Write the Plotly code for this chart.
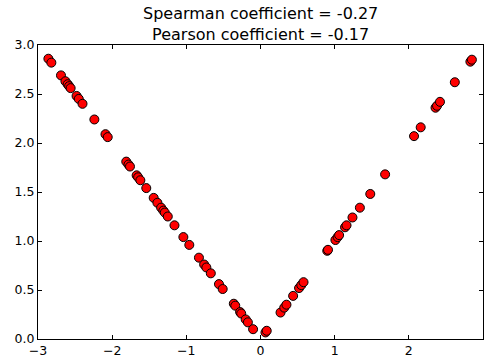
import plotly.graph_objects as go

x_left = [-2.86, -2.82, -2.69, -2.63, -2.60, -2.58, -2.56, -2.48, -2.45, -2.40,
          -2.24, -2.09, -2.06, -1.81, -1.78, -1.76, -1.67, -1.65, -1.62, -1.54,
          -1.44, -1.39, -1.34, -1.31, -1.29, -1.25, -1.16, -1.04, -0.96, -0.83,
          -0.76, -0.73, -0.67, -0.56, -0.51, -0.36, -0.34, -0.275, -0.26, -0.20,
          -0.17, -0.10]
y_left = [2.86, 2.82, 2.69, 2.63, 2.60, 2.58, 2.56, 2.48, 2.45, 2.40,
          2.24, 2.09, 2.06, 1.81, 1.78, 1.76, 1.67, 1.65, 1.62, 1.54,
          1.44, 1.39, 1.34, 1.31, 1.29, 1.25, 1.16, 1.04, 0.96, 0.83,
          0.76, 0.73, 0.67, 0.56, 0.51, 0.36, 0.34, 0.275, 0.26, 0.20,
          0.17, 0.10]
x_right = [0.067, 0.084, 0.27, 0.32, 0.35, 0.44, 0.52, 0.55, 0.58, 0.90,
           0.91, 1.01, 1.04, 1.06, 1.14, 1.16, 1.24, 1.34, 1.48, 1.68,
           2.07, 2.16, 2.36, 2.38, 2.42, 2.62, 2.83, 2.85]
y_right = [0.067, 0.084, 0.27, 0.32, 0.35, 0.44, 0.52, 0.55, 0.58, 0.90,
           0.91, 1.01, 1.04, 1.06, 1.14, 1.16, 1.24, 1.34, 1.48, 1.68,
           2.07, 2.16, 2.36, 2.38, 2.42, 2.62, 2.83, 2.85]

title_lines = ["Spearman coefficient = -0.27", "Pearson coefficient = -0.17"]
x_ticks = [-3, -2, -1, 0, 1, 2, 3]
y_ticks = [0.0, 0.5, 1.0, 1.5, 2.0, 2.5, 3.0]

xs = x_left + x_right
ys = y_left + y_right

fig = go.Figure(go.Scatter(
    x=xs, y=ys, mode="markers",
    marker=dict(color="#ff0000", size=9, line=dict(color="black", width=1)),
))

font = "DejaVu Sans"
axis_common = dict(
    showgrid=False, zeroline=False, showline=True, linecolor="black",
    linewidth=1, mirror="ticks", ticks="inside", ticklen=4, tickcolor="black",
    tickfont=dict(family=font, size=12.5, color="black"),
)
fig.update_layout(
    width=485, height=359,
    margin=dict(l=38, r=1, t=45, b=16),
    paper_bgcolor="white", plot_bgcolor="white",
    showlegend=False,
    xaxis=dict(range=[-3, 3], tickvals=x_ticks, **axis_common),
    yaxis=dict(range=[0, 3], tickvals=y_ticks, tickformat=".1f", **axis_common),
    annotations=[
        dict(text="<br>".join(title_lines), xref="paper", yref="paper",
             x=0.5, y=1.0705, showarrow=False, yanchor="middle",
             xanchor="center", align="center",
             font=dict(family=font, size=16, color="black")),
    ],
)
fig.write_html("out.html")
